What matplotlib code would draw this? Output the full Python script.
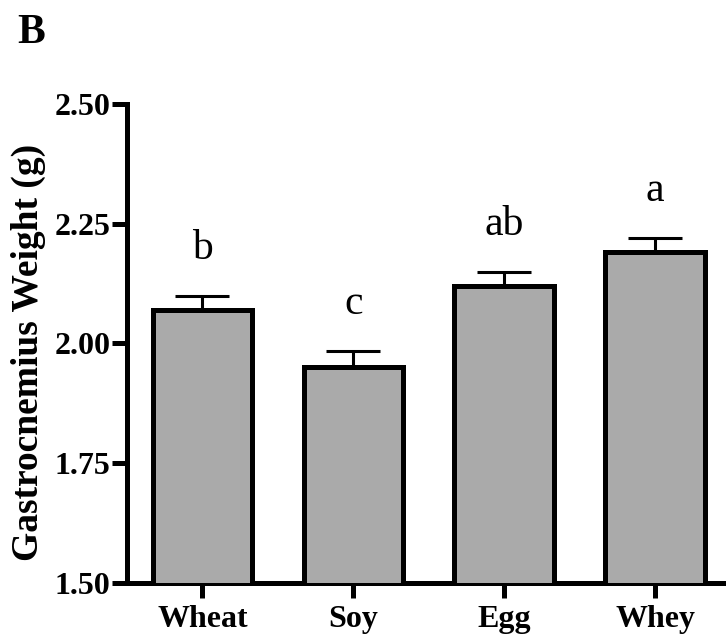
import numpy as np
import matplotlib
matplotlib.use("Agg")
import matplotlib.pyplot as plt

# diet groups and gastrocnemius weights (mean, upper SEM)
groups = ["Wheat", "Soy", "Egg", "Whey"]
weights = [2.07, 1.95, 2.12, 2.19]
sem = [0.03, 0.035, 0.03, 0.03]
letters = ["b", "c", "ab", "a"]
yticks = [1.50, 1.75, 2.00, 2.25, 2.50]

SERIF = "Liberation Serif"
LW = 3.6

fig = plt.figure(figsize=(7.26, 6.4), dpi=100)
ax = fig.add_axes([0.175, 0.0891, 0.825, 0.7484])

x = np.arange(len(groups))
ax.bar(x, weights, width=0.66, color="#aaaaaa", edgecolor="black",
       linewidth=LW, zorder=3)
ax.errorbar(x, weights, yerr=[np.zeros(len(sem)), sem], fmt="none",
            ecolor="black", elinewidth=2.2, capsize=19.5, capthick=2.2,
            zorder=2)

# significance letters above the error bars
for xi, w, e, lab in zip(x, weights, sem, letters):
    ax.text(xi, w + e + 0.077, lab, ha="center", va="baseline",
            fontsize=30, family=SERIF)

ax.set_xlim(-0.5, 3.47)
ax.set_ylim(1.50, 2.50)
ax.set_yticks(yticks)
ax.set_yticklabels([f"{t:.2f}" for t in yticks])
ax.set_xticks(x)
ax.set_xticklabels(groups)

for lab in ax.get_xticklabels() + ax.get_yticklabels():
    lab.set_family(SERIF)
    lab.set_fontweight("bold")
    lab.set_fontsize(23)

ax.tick_params(axis="both", direction="out", length=10.8, width=LW)
ax.tick_params(axis="y", pad=1)
ax.tick_params(axis="x", pad=5)

for s in ("top", "right"):
    ax.spines[s].set_visible(False)
for s in ("left", "bottom"):
    ax.spines[s].set_linewidth(LW)
    ax.spines[s].set_capstyle("projecting")

fig.text(28 / 726, 1 - 352 / 640, "Gastrocnemius Weight (g)", rotation=90,
         ha="center", va="center", fontsize=27, fontweight="bold",
         family=SERIF)
fig.text(17 / 726, 1 - 43 / 640, "B", ha="left", va="baseline",
         fontsize=30, fontweight="bold", family=SERIF)

fig.savefig("out.png", dpi=100)
